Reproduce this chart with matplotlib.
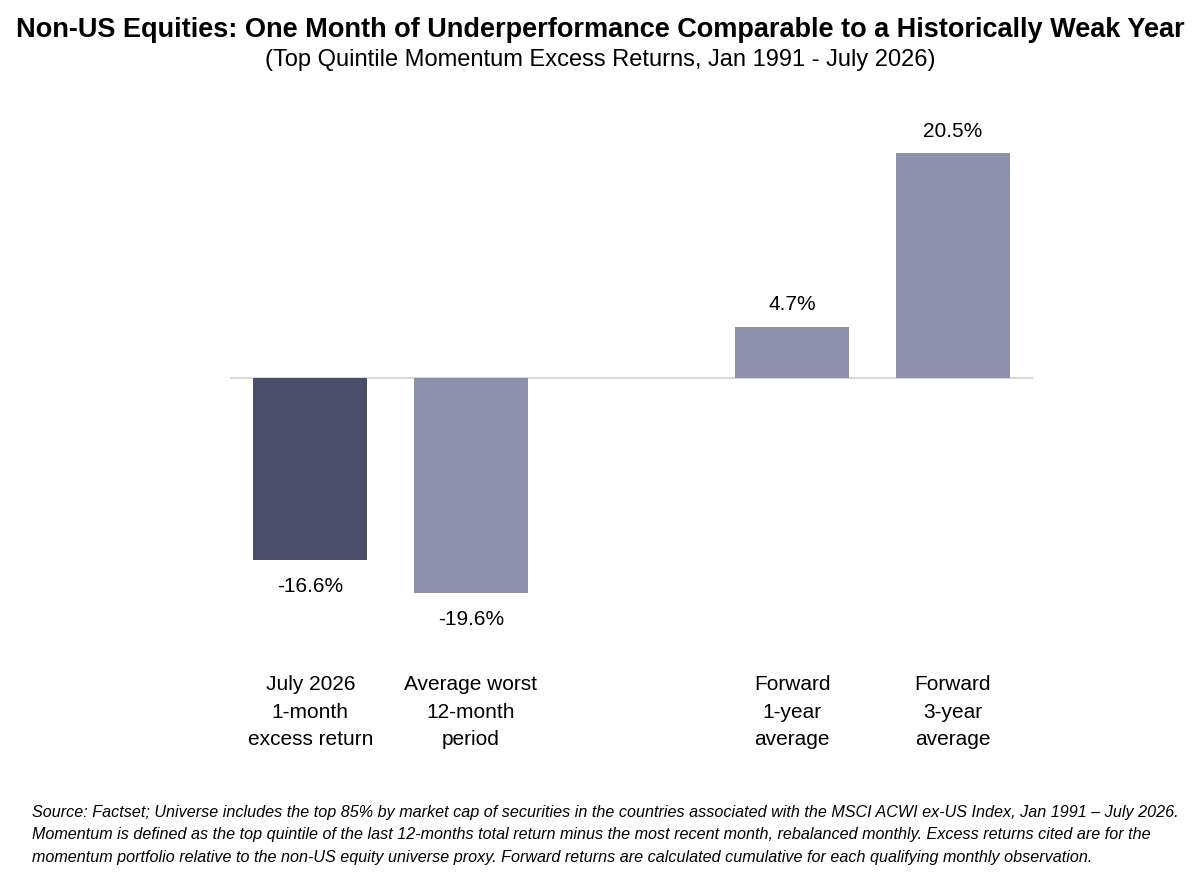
import matplotlib.pyplot as plt
import matplotlib.transforms as mtransforms
from matplotlib import font_manager

# Chart data
categories = ["July 2026\n1-month\nexcess return", "Average worst\n12-month\nperiod", "",
              "Forward\n1-year\naverage", "Forward\n3-year\naverage"]
values = [-16.6, -19.6, None, 4.7, 20.5]
bar_colors = ["#4a4e69", "#8e91ae", "#ffffff", "#8e91ae", "#8e91ae"]

title = "Non-US Equities: One Month of Underperformance Comparable to a Historically Weak Year"
subtitle = "(Top Quintile Momentum Excess Returns, Jan 1991 - July 2026)"
footnote = ("Source: Factset; Universe includes the top 85% by market cap of securities in the countries associated with the MSCI ACWI ex-US Index, Jan 1991 \u2013 July 2026.\n"
            "Momentum is defined as the top quintile of the last 12-months total return minus the most recent month, rebalanced monthly. Excess returns cited are for the\n"
            "momentum portfolio relative to the non-US equity universe proxy. Forward returns are calculated cumulative for each qualifying monthly observation.")


def main():
    names = {f.name for f in font_manager.fontManager.ttflist}
    narrow = "Liberation Sans Narrow" if "Liberation Sans Narrow" in names else "Liberation Sans"
    plt.rcParams['font.family'] = [narrow, 'DejaVu Sans']

    fig = plt.figure(figsize=(12, 8.76), dpi=100)
    ax = fig.add_axes([0.1917, 0.2934, 0.669, 0.5502])

    xs = list(range(len(categories)))
    for x, v, c in zip(xs, values, bar_colors):
        if v is None:
            continue
        ax.bar(x, v, width=0.71, color=c, zorder=2)
        if v >= 0:
            ax.annotate(f"{v:.1f}%", (x, v), xytext=(0, 16), textcoords='offset points',
                        ha='center', va='center', fontsize=15)
        else:
            ax.annotate(f"{v:.1f}%", (x, v), xytext=(0, -19.5), textcoords='offset points',
                        ha='center', va='center', fontsize=15)

    ax.axhline(0, color="#d9d9d9", linewidth=1.5, zorder=1)
    ax.set_xlim(-0.5, len(categories) - 0.5)
    ax.set_ylim(-22, 22)
    ax.axis('off')

    trans = mtransforms.blended_transform_factory(ax.transData, fig.transFigure)
    for x, lab in zip(xs, categories):
        if lab:
            ax.text(x, 0.1872, lab, transform=trans, ha='center', va='center',
                    fontsize=15, linespacing=1.55)

    fig.text(0.5, 0.966, title, ha='center', va='center', fontsize=19.5, fontweight='bold')
    fig.text(0.5, 0.931, subtitle, ha='center', va='center', fontsize=17)
    fig.text(0.027, 0.047, footnote, ha='left', va='center', fontsize=11.6,
             style='italic', linespacing=1.62)

    fig.savefig('out.png', dpi=100, facecolor='white')


if __name__ == '__main__':
    main()
